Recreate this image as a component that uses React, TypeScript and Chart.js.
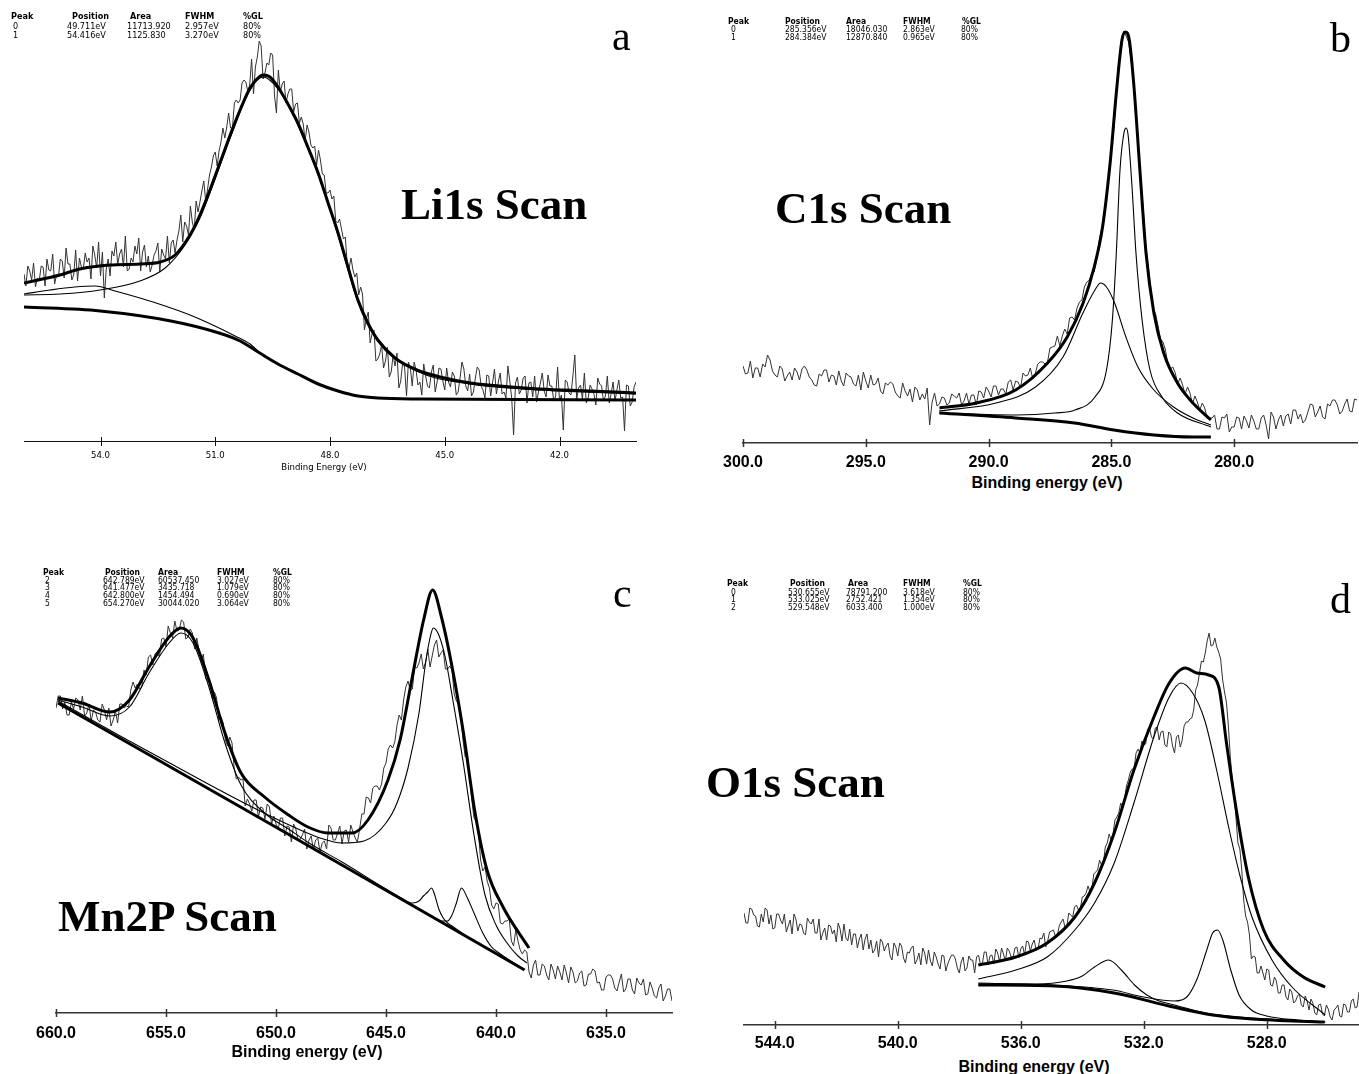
import React, { useEffect, useRef } from 'react';
import { Chart, registerables } from 'chart.js';

Chart.register(...registerables);

// ================= Panel a : Li1s =================
const liTicks = [54, 51, 48, 45, 42];
const liStart = 56.0;
const liStep = 0.05;
const liRaw = [
  167, 155, 175, 170, 161, 178, 154, 163, 161, 175, 174, 155, 182, 171, 170, 187, 157, 166, 164, 182,
  180, 163, 193, 177, 177, 161, 166, 191, 160, 183, 174, 172, 188, 179, 183, 162, 195, 186, 173, 199,
  165, 189, 143, 172, 182, 165, 190, 185, 199, 177, 187, 192, 174, 205, 170, 172, 183, 179, 195, 187,
  203, 170, 189, 196, 174, 185, 169, 176, 186, 190, 198, 169, 192, 186, 182, 205, 178, 198, 201, 188,
  201, 210, 226, 199, 219, 215, 206, 235, 219, 211, 240, 229, 239, 250, 260, 240, 252, 266, 274, 285,
  289, 275, 290, 299, 313, 303, 314, 328, 313, 313, 338, 341, 338, 341, 358, 361, 359, 350, 356, 382,
  347, 374, 384, 400, 395, 362, 368, 378, 376, 388, 386, 345, 328, 371, 349, 357, 360, 338, 347, 352,
  352, 329, 337, 338, 318, 324, 317, 300, 316, 309, 296, 293, 295, 276, 291, 281, 267, 266, 248, 248,
  251, 242, 245, 220, 218, 222, 212, 202, 204, 177, 173, 183, 171, 164, 168, 146, 154, 147, 111, 122,
  129, 98, 107, 111, 80, 82, 87, 96, 73, 80, 94, 64, 69, 86, 75, 88, 53, 60, 79, 74,
  45, 79, 73, 55, 79, 71, 56, 59, 46, 77, 65, 55, 53, 69, 76, 49, 59, 73, 72, 60,
  51, 73, 59, 54, 69, 65, 46, 49, 63, 79, 72, 55, 50, 67, 45, 49, 63, 74, 71, 55,
  51, 43, 66, 65, 45, 58, 72, 47, 59, 68, 47, 49, 43, 75, 60, 43, 6, 58, 64, 47,
  51, 63, 65, 38, 58, 59, 44, 65, 39, 49, 58, 68, 50, 44, 66, 55, 55, 40, 45, 74,
  40, 46, 11, 61, 59, 48, 46, 65, 86, 42, 53, 56, 42, 68, 38, 43, 56, 52, 47, 36,
  63, 57, 55, 40, 45, 65, 38, 47, 59, 40, 51, 61, 43, 44, 10, 56, 55, 35, 39, 54,
  59,
];
const liEnvE = [56.0, 55.06, 54.54, 53.75, 52.97, 52.44, 52.05, 51.66, 51.4, 51.11, 50.85, 50.59, 50.33, 50.09, 49.91, 49.75, 49.57, 49.36, 49.1, 48.84, 48.58, 48.31, 48.05, 47.79, 47.53, 47.27, 47.01, 46.75, 46.3, 45.73, 45.12, 44.34, 43.56, 42.51, 41.2, 40.0];
const liEnvH = [158, 166, 172, 176, 177, 179, 186, 206, 226, 254, 281, 308, 333, 353, 362, 366, 364, 354, 337, 318, 294, 268, 238, 208, 174, 141, 118, 101, 83, 71, 64, 58, 55, 52, 50, 48];
const liBgE = [56.0, 54.01, 52.16, 50.9, 50.35, 49.88, 49.36, 48.84, 48.31, 47.79, 47.27, 46.75, 45.65, 40.0];
const liBgH = [134, 130, 120, 108, 100, 89, 77, 67, 57, 50, 45, 43, 42, 41];
const liP0E = [56.0, 55.06, 54.01, 52.97, 52.31, 51.79, 51.4, 51.11, 50.59, 50.09, 49.75, 49.36, 48.84, 48.31, 47.79, 47.27, 46.75, 45.73, 44.34, 42.51, 40.0];
const liP0H = [146, 147, 151, 160, 173, 196, 223, 251, 305, 351, 364, 352, 316, 266, 206, 139, 100, 70, 57, 51, 47];
const liP1E = [56.0, 55.32, 54.67, 54.14, 53.62, 52.97, 52.31, 51.66, 51.01, 50.48, 50.09, 49.88];
const liP1H = [147, 151, 154, 155, 150, 143, 135, 126, 115, 105, 97, 90];
const liRows = [
  ['0', '49.711eV', '11713.920', '2.957eV', '80%'],
  ['1', '54.416eV', '1125.830', '3.270eV', '80%'],
];

// ================= Panel b : C1s =================
const cTicks = [300, 295, 290, 285, 280];
const cStart = 300.0;
const cStep = 0.1;
const cRaw = [
  77, 69, 70, 82, 65, 75, 75, 66, 79, 76, 88, 83, 72, 68, 66, 77, 74, 62, 67, 71,
  63, 75, 71, 63, 74, 77, 73, 66, 63, 58, 57, 69, 67, 73, 73, 61, 68, 67, 58, 72,
  62, 57, 70, 67, 66, 59, 57, 68, 53, 71, 62, 55, 68, 58, 59, 65, 52, 49, 60, 58,
  61, 59, 51, 47, 45, 60, 52, 47, 54, 41, 56, 53, 43, 49, 44, 55, 18, 41, 50, 37,
  39, 46, 45, 38, 40, 49, 47, 45, 50, 38, 42, 50, 39, 48, 48, 38, 52, 51, 45, 56,
  52, 46, 57, 57, 48, 54, 54, 49, 61, 63, 53, 62, 61, 55, 70, 67, 68, 75, 64, 69,
  79, 81, 81, 79, 81, 95, 96, 97, 107, 97, 107, 114, 109, 125, 126, 123, 135, 141, 143, 156,
  161, 163, 170, 171, 184, 202, 214, 225, 242, 270, 292, 314, 346, 382, 393, 412, 407, 401, 382, 364,
  332, 294, 262, 233, 197, 176, 156, 135, 129, 117, 104, 101, 93, 79, 74, 76, 70, 59, 65, 58,
  49, 56, 50, 39, 47, 41, 33, 40, 35, 25, 25, 25, 28, 14, 14, 26, 25, 29, 11, 16,
  16, 26, 25, 14, 27, 22, 15, 28, 22, 14, 14, 25, 28, 18, 4, 31, 26, 14, 23, 28,
  17, 27, 29, 19, 33, 33, 24, 29, 20, 23, 31, 39, 38, 26, 31, 37, 26, 24, 39, 37,
  43, 43, 38, 29, 32, 39, 44, 32, 31, 44, 43,
];
const cEnvE = [292.0, 290.5, 288.9, 287.6, 286.8, 286.15, 285.7, 285.36, 285.04, 284.8, 284.57, 284.43, 284.27, 284.08, 283.84, 283.59, 283.27, 282.87, 282.31, 281.68, 280.95];
const cEnvH = [35, 40, 53, 80, 106, 140, 176, 216, 283, 350, 403, 411, 403, 356, 273, 190, 130, 90, 60, 40, 23];
const cBgE = [292.0, 288.9, 286.5, 284.9, 283.27, 281.68, 280.95];
const cBgH = [30, 25, 20, 13, 8, 6, 6];
const cP0E = [292.02, 289.7, 288.09, 286.97, 286.16, 285.67, 285.44, 285.2, 284.87, 284.41, 283.92, 283.27, 282.47, 281.68, 280.95];
const cP0H = [32, 40, 56, 86, 130, 153, 160, 156, 140, 106, 76, 53, 36, 25, 18];
const cP1E = [292.02, 288.88, 287.3, 286.48, 285.67, 285.2, 284.96, 284.8, 284.65, 284.49, 284.4, 284.32, 284.16, 284.0, 283.75, 283.43, 282.94, 282.31, 280.95];
const cP1H = [30, 28, 30, 33, 46, 73, 123, 190, 273, 310, 315, 308, 256, 190, 123, 73, 46, 30, 16];
const cRows = [
  ['0', '285.356eV', '18046.030', '2.863eV', '80%'],
  ['1', '284.384eV', '12870.840', '0.965eV', '80%'],
];

// ================= Panel c : Mn2P =================
const mnTicks = [660, 655, 650, 645, 640, 635];
const mnStart = 660.0;
const mnStep = 0.1;
const mnRaw = [
  305, 317, 317, 304, 311, 298, 298, 311, 304, 315, 313, 303, 317, 297, 300, 309, 292, 303, 301, 293,
  291, 309, 303, 293, 305, 287, 293, 302, 290, 309, 309, 305, 307, 306, 323, 331, 325, 329, 324, 326,
  343, 338, 356, 358, 348, 359, 361, 356, 374, 375, 366, 387, 380, 375, 392, 382, 383, 393, 391, 374,
  376, 384, 380, 364, 375, 363, 352, 359, 334, 332, 332, 315, 321, 315, 293, 296, 290, 273, 267, 276,
  270, 245, 234, 236, 233, 234, 207, 214, 209, 202, 213, 213, 196, 206, 205, 194, 209, 206, 189, 197,
  189, 184, 195, 195, 177, 187, 186, 171, 189, 184, 173, 174, 178, 184, 164, 173, 177, 163, 173, 175,
  161, 170, 172, 164, 188, 185, 173, 173, 180, 187, 169, 182, 183, 171, 188, 181, 175, 171, 184, 199,
  199, 216, 215, 210, 225, 227, 227, 223, 229, 245, 250, 264, 268, 265, 271, 288, 298, 293, 313, 326,
  332, 323, 324, 346, 345, 350, 359, 344, 351, 364, 346, 357, 368, 373, 356, 360, 363, 344, 344, 347,
  343, 319, 312, 309, 297, 273, 256, 258, 238, 213, 195, 192, 181, 153, 142, 146, 132, 125, 108, 104,
  110, 109, 90, 89, 92, 92, 94, 72, 67, 83, 72, 63, 59, 63, 61, 41, 35, 48, 53, 38,
  38, 49, 47, 38, 33, 49, 43, 34, 47, 41, 33, 48, 40, 30, 46, 41, 30, 32, 40, 42,
  27, 28, 39, 39, 44, 42, 30, 31, 23, 23, 36, 38, 38, 34, 25, 22, 31, 39, 21, 24,
  34, 34, 23, 19, 35, 30, 28, 34, 18, 19, 31, 25, 17, 15, 25, 29, 12, 17, 24, 24,
  12,
];
const mnEnvE = [659.91, 658.82, 657.55, 656.66, 655.77, 654.86, 654.32, 653.77, 653.05, 652.32, 651.59, 650.52, 649.43, 648.55, 647.64, 646.55, 645.82, 644.91, 644.36, 643.83, 643.29, 642.88, 642.48, 642.03, 641.5, 640.95, 640.41, 639.68, 638.5];
const mnEnvH = [315, 310, 301, 313, 346, 376, 385, 375, 333, 280, 240, 216, 198, 186, 180, 180, 193, 233, 273, 333, 393, 423, 396, 350, 283, 200, 143, 106, 65];
const mnBgE = [659.91, 649.3, 638.7];
const mnBgH = [310, 177, 43];
const mnP5E = [659.91, 658.82, 657.55, 656.66, 655.77, 654.86, 654.32, 653.77, 653.05, 652.32, 651.59, 650.52, 649.43, 648.5, 647.0, 645.0, 643.0, 641.0, 638.95];
const mnP5H = [313, 306, 297, 306, 340, 370, 380, 370, 326, 270, 228, 200, 184, 170, 151, 124, 98, 72, 47];
const mnP2E = [659.91, 657.0, 655.0, 653.0, 651.0, 649.0, 648.0, 647.0, 646.0, 645.0, 644.5, 644.0, 643.5, 643.2, 643.0, 642.85, 642.6, 642.3, 642.0, 641.5, 641.0, 640.5, 640.0, 639.5, 639.0, 638.6];
const mnP2H = [312, 276, 252, 228, 205, 184, 175, 170, 172, 190, 210, 245, 300, 350, 375, 385, 378, 355, 318, 252, 178, 118, 88, 70, 57, 50];
const mnP4E = [644.0, 643.8, 643.5, 643.3, 643.1, 642.93, 642.8, 642.6, 642.4, 642.2, 642.0, 641.5];
const mnP4H = [111, 110, 112, 117, 121, 125, 119, 104, 95, 90, 87, 79];
const mnP3E = [643.0, 642.5, 642.2, 642.0, 641.8, 641.57, 641.3, 641.0, 640.6, 640.2, 639.8, 639.4, 639.0];
const mnP3H = [98, 92, 92, 98, 110, 125, 115, 100, 80, 66, 59, 53, 47];
const mnRows = [
  ['2', '642.789eV', '60537.450', '3.027eV', '80%'],
  ['3', '641.477eV', '3435.718', '1.079eV', '80%'],
  ['4', '642.800eV', '1454.494', '0.690eV', '80%'],
  ['5', '654.270eV', '30044.020', '3.064eV', '80%'],
];

// ================= Panel d : O1s =================
const oTicks = [544, 540, 536, 532, 528];
const oStart = 545.0;
const oStep = 0.0625;
const oRaw = [
  112, 102, 102, 117, 116, 110, 109, 99, 98, 111, 103, 117, 115, 101, 110, 96, 97, 111, 111, 105,
  101, 111, 93, 99, 105, 91, 111, 106, 94, 101, 100, 92, 90, 107, 103, 101, 106, 92, 92, 106,
  85, 92, 97, 85, 100, 99, 91, 95, 83, 102, 96, 84, 101, 87, 84, 96, 80, 91, 91, 77,
  86, 91, 75, 86, 91, 76, 85, 72, 75, 84, 68, 86, 83, 74, 79, 82, 69, 65, 82, 78,
  69, 82, 79, 67, 62, 73, 72, 77, 79, 61, 65, 72, 60, 77, 72, 61, 75, 64, 59, 73,
  68, 61, 56, 70, 69, 54, 61, 66, 70, 70, 66, 57, 52, 63, 68, 54, 57, 69, 65, 65,
  52, 68, 70, 61, 61, 73, 73, 60, 69, 70, 61, 76, 72, 63, 77, 71, 64, 77, 74, 68,
  68, 77, 78, 67, 76, 79, 70, 84, 83, 74, 81, 85, 75, 76, 87, 86, 92, 78, 84, 93,
  94, 95, 89, 89, 99, 103, 106, 98, 99, 112, 110, 108, 118, 120, 115, 116, 128, 129, 132, 139,
  133, 136, 151, 153, 155, 165, 160, 162, 178, 182, 191, 185, 191, 205, 208, 212, 222, 218, 226, 239,
  245, 253, 256, 257, 272, 276, 272, 284, 280, 281, 296, 297, 288, 286, 297, 298, 285, 293, 294, 280,
  278, 293, 291, 279, 272, 288, 290, 278, 285, 299, 303, 303, 306, 307, 315, 335, 340, 352, 364, 363,
  372, 384, 392, 379, 380, 387, 378, 373, 366, 346, 333, 323, 300, 269, 247, 233, 207, 182, 176, 155,
  125, 109, 103, 90, 66, 69, 68, 52, 52, 59, 52, 45, 56, 55, 40, 39, 48, 44, 32, 32,
  40, 40, 28, 25, 36, 33, 22, 24, 29, 31, 20, 18, 29, 24, 15, 26, 22, 12, 10, 20,
  21, 11, 9, 20, 16, 8, 5, 15, 17, 20, 9, 8, 21, 20, 13, 13, 24, 26, 17, 18,
  33,
];
const oEnvE = [537.38, 536.16, 535.14, 534.24, 533.6, 532.96, 532.32, 531.67, 531.17, 530.65, 530.28, 529.89, 529.56, 529.31, 528.99, 528.6, 528.1, 527.45, 526.81, 526.1];
const oEnvH = [60, 68, 82, 108, 142, 192, 255, 308, 342, 357, 352, 350, 338, 282, 215, 148, 95, 65, 48, 38];
const oBgE = [537.38, 534.89, 532.96, 531.04, 529.76, 528.48, 526.12];
const oBgH = [40, 39, 32, 18, 10, 6, 3];
const oP0E = [537.38, 536.16, 535.14, 534.24, 533.6, 532.96, 532.32, 531.67, 531.17, 530.79, 530.41, 530.02, 529.63, 529.24, 528.86, 528.48, 527.83, 527.18, 526.1];
const oP0H = [46, 55, 68, 95, 122, 162, 222, 288, 328, 342, 332, 305, 255, 198, 148, 108, 65, 38, 10];
const oP1E = [537.38, 535.5, 534.5, 534.0, 533.6, 533.14, 532.7, 532.3, 531.9, 531.5, 531.0, 530.0, 528.5, 526.1];
const oP1H = [41, 41, 44, 49, 58, 65, 54, 40, 30, 24, 20, 12, 7, 3];
const oP2E = [537.38, 535.0, 533.0, 532.0, 531.0, 530.6, 530.28, 529.95, 529.76, 529.6, 529.43, 529.17, 528.9, 528.5, 528.0, 527.0, 526.1];
const oP2H = [42, 40, 35, 28, 24, 28, 45, 75, 92, 95, 85, 55, 30, 15, 9, 5, 3];
const oRows = [
  ['0', '530.655eV', '78791.200', '3.618eV', '80%'],
  ['1', '533.025eV', '2752.421', '1.354eV', '80%'],
  ['2', '529.548eV', '6033.400', '1.000eV', '80%'],
];

const headLabels = ['Peak', 'Position', 'Area', 'FWHM', '%GL'];

// ================= helpers =================
const NARROW = "'Liberation Sans Narrow', 'DejaVu Sans Condensed', 'Arial Narrow', sans-serif";
const SANS = "'Liberation Sans', Arial, Helvetica, sans-serif";
const SERIF = "'Liberation Serif', 'Times New Roman', serif";

const xy = (xs: number[], ys: number[]) => xs.map((x, i) => ({ x, y: ys[i] }));
const scan = (start: number, step: number, ys: number[]) =>
  ys.map((y, i) => ({ x: Math.round((start - step * i) * 10000) / 10000, y }));

const fitLine = (data: any[], width: number) => ({
  data, borderColor: '#000', borderWidth: width, pointRadius: 0, fill: false,
  cubicInterpolationMode: 'monotone',
});
const rawLine = (data: any[]) => ({
  data, borderColor: '#333', borderWidth: 1, pointRadius: 0, fill: false, tension: 0,
});

const tickMarks = {
  id: 'tickMarks',
  afterDraw(chart: any, _args: any, opts: any) {
    const sx = chart.scales.x;
    const ctx = chart.ctx;
    const y = chart.chartArea.bottom;
    ctx.save();
    ctx.strokeStyle = opts.color;
    ctx.lineWidth = opts.width;
    sx.ticks.forEach((t: any) => {
      const px = Math.round(sx.getPixelForValue(t.value)) + 0.5;
      ctx.beginPath();
      ctx.moveTo(px, y - opts.up);
      ctx.lineTo(px, y + opts.down);
      ctx.stroke();
    });
    ctx.restore();
  },
};

const THICK = 3;
const THIN = 1.1;

const panels = [
  {
    key: 'a', left: 0, top: 0, width: 660, height: 469,
    pad: { left: 24, right: 24, top: 31, bottom: 0 },
    xMin: 40, xMax: 56, yMax: 410, ticks: liTicks, axisH: 28,
    tickFont: { family: NARROW, size: 9.5 }, tickPad: 9,
    axisColor: '#111', axisWidth: 1, up: 4, down: 5,
    datasets: [
      fitLine(xy(liEnvE, liEnvH), THICK),
      fitLine(xy(liBgE, liBgH), THICK),
      fitLine(xy(liP0E, liP0H), THIN),
      fitLine(xy(liP1E, liP1H), THIN),
      rawLine(scan(liStart, liStep, liRaw)),
    ],
  },
  {
    key: 'b', left: 700, top: 0, width: 659, height: 473,
    pad: { left: 43, right: 2, top: 20, bottom: 0 },
    xMin: 275, xMax: 300, yMax: 423, ticks: cTicks, axisH: 30,
    tickFont: { family: SANS, size: 16, weight: 'bold' }, tickPad: 10,
    axisColor: '#333', axisWidth: 1.5, up: 4, down: 4,
    datasets: [
      fitLine(xy(cEnvE, cEnvH), THICK),
      fitLine(xy(cBgE, cBgH), THICK),
      fitLine(xy(cP0E, cP0H), THIN),
      fitLine(xy(cP1E, cP1H), THIN),
      rawLine(scan(cStart, cStep, cRaw)),
    ],
  },
  {
    key: 'c', left: 0, top: 540, width: 680, height: 505,
    pad: { left: 56, right: 8, top: 33, bottom: 0 },
    xMin: 632, xMax: 660, yMax: 440, ticks: mnTicks, axisH: 32,
    tickFont: { family: SANS, size: 16, weight: 'bold' }, tickPad: 11,
    axisColor: '#333', axisWidth: 1.5, up: 4, down: 4,
    datasets: [
      fitLine(xy(mnEnvE, mnEnvH), THICK),
      fitLine(xy(mnBgE, mnBgH), THICK),
      fitLine(xy(mnP5E, mnP5H), THIN),
      fitLine(xy(mnP2E, mnP2H), THIN),
      fitLine(xy(mnP4E, mnP4H), THIN),
      fitLine(xy(mnP3E, mnP3H), THIN),
      rawLine(scan(mnStart, mnStep, mnRaw)),
    ],
  },
  {
    key: 'd', left: 700, top: 560, width: 659, height: 495,
    pad: { left: 44, right: 0, top: 50, bottom: 0 },
    xMin: 525, xMax: 545, yMax: 415, ticks: oTicks, axisH: 30,
    tickFont: { family: SANS, size: 16, weight: 'bold' }, tickPad: 9,
    axisColor: '#333', axisWidth: 1.5, up: 4, down: 4,
    datasets: [
      fitLine(xy(oEnvE, oEnvH), THICK),
      fitLine(xy(oBgE, oBgH), THICK),
      fitLine(xy(oP0E, oP0H), THIN),
      fitLine(xy(oP1E, oP1H), THIN),
      fitLine(xy(oP2E, oP2H), THIN),
      rawLine(scan(oStart, oStep, oRaw)),
    ],
  },
];

function Panel({ cfg }: { cfg: any }) {
  const ref = useRef<HTMLCanvasElement>(null);
  useEffect(() => {
    const chart = new Chart(ref.current as HTMLCanvasElement, {
      type: 'line',
      data: { datasets: cfg.datasets },
      plugins: [tickMarks],
      options: {
        animation: false,
        responsive: false,
        events: [],
        layout: { padding: cfg.pad },
        plugins: {
          legend: { display: false },
          tooltip: { enabled: false },
          tickMarks: { color: cfg.axisColor, width: cfg.axisWidth, up: cfg.up, down: cfg.down },
        },
        scales: {
          x: {
            type: 'linear',
            min: cfg.xMin,
            max: cfg.xMax,
            reverse: true,
            afterBuildTicks: (s: any) => { s.ticks = cfg.ticks.map((v: number) => ({ value: v })); },
            afterFit: (s: any) => { s.height = cfg.axisH; },
            grid: { display: false, drawTicks: false },
            border: { display: true, color: cfg.axisColor, width: cfg.axisWidth },
            ticks: {
              autoSkip: false, maxRotation: 0, minRotation: 0,
              padding: cfg.tickPad, font: cfg.tickFont, color: '#000',
              callback: (v: any) => Number(v).toFixed(1),
            },
          },
          y: { display: false, min: 0, max: cfg.yMax },
        },
      } as any,
    } as any);
    return () => chart.destroy();
  }, [cfg]);
  return (
    <canvas
      ref={ref}
      width={cfg.width}
      height={cfg.height}
      style={{ position: 'absolute', left: cfg.left, top: cfg.top, width: cfg.width, height: cfg.height }}
    />
  );
}

function PeakTable({ headX, valX, rows, headY, rowYs, size }: any) {
  const base: any = { position: 'absolute', fontFamily: NARROW, fontSize: size, lineHeight: 1, whiteSpace: 'nowrap', color: '#000' };
  const off = size * 0.49;
  return (
    <>
      {headLabels.map((h, i) => (
        <span key={'h' + i} style={{ ...base, left: headX[i], top: headY - off, fontWeight: 'bold' }}>{h}</span>
      ))}
      {rows.map((r: string[], ri: number) =>
        r.map((c, ci) => (
          <span key={ri + '-' + ci} style={{ ...base, left: valX[ci], top: rowYs[ri] - off }}>{c}</span>
        )),
      )}
    </>
  );
}

function Label({ text, left, top, size, bold, family }: any) {
  return (
    <span style={{ position: 'absolute', left, top, fontFamily: family, fontSize: size, lineHeight: 1, fontWeight: bold ? 'bold' : 'normal', whiteSpace: 'nowrap', color: '#000' }}>{text}</span>
  );
}

function AxisTitle({ text, cx, cy, size, bold, family }: any) {
  return (
    <div style={{ position: 'absolute', left: cx - 200, width: 400, top: cy - size * 0.49, textAlign: 'center', fontFamily: family, fontSize: size, lineHeight: 1, fontWeight: bold ? 'bold' : 'normal', whiteSpace: 'nowrap', color: '#000' }}>{text}</div>
  );
}

export default function App() {
  return (
    <div style={{ position: 'absolute', left: 0, top: 0, width: 1359, height: 1074, overflow: 'hidden', background: '#fff' }}>
      {panels.map((p) => <Panel key={p.key} cfg={p} />)}

      <PeakTable headX={[11, 72, 130, 185, 243]} valX={[13, 67, 127, 185, 243]} rows={liRows} headY={16.5} rowYs={[26.5, 35]} size={9} />
      <PeakTable headX={[728, 785, 846, 903, 962]} valX={[731, 785, 846, 903, 961]} rows={cRows} headY={21} rowYs={[29.5, 37.5]} size={8.5} />
      <PeakTable headX={[43, 105, 158, 217, 273]} valX={[45, 103, 158, 217, 273]} rows={mnRows} headY={571.7} rowYs={[580, 587.5, 595, 602.7]} size={8.5} />
      <PeakTable headX={[727, 790, 848, 903, 963]} valX={[731, 788, 846, 903, 963]} rows={oRows} headY={583} rowYs={[592, 599.5, 607]} size={8.5} />

      <Label text="Li1s Scan" left={401} top={182} size={45} bold family={SERIF} />
      <Label text="C1s Scan" left={775} top={186} size={45} bold family={SERIF} />
      <Label text="Mn2P Scan" left={58} top={894} size={45} bold family={SERIF} />
      <Label text="O1s Scan" left={706} top={760} size={45} bold family={SERIF} />

      <Label text="a" left={612} top={15} size={42} family={SERIF} />
      <Label text="b" left={1330} top={17} size={42} family={SERIF} />
      <Label text="c" left={613} top={572} size={42} family={SERIF} />
      <Label text="d" left={1330} top={578} size={42} family={SERIF} />

      <AxisTitle text="Binding Energy (eV)" cx={324} cy={467} size={9.5} family={NARROW} />
      <AxisTitle text="Binding energy (eV)" cx={1047} cy={483} size={16} bold family={SANS} />
      <AxisTitle text="Binding energy (eV)" cx={307} cy={1052} size={16} bold family={SANS} />
      <AxisTitle text="Binding energy (eV)" cx={1034} cy={1067} size={16} bold family={SANS} />
    </div>
  );
}
